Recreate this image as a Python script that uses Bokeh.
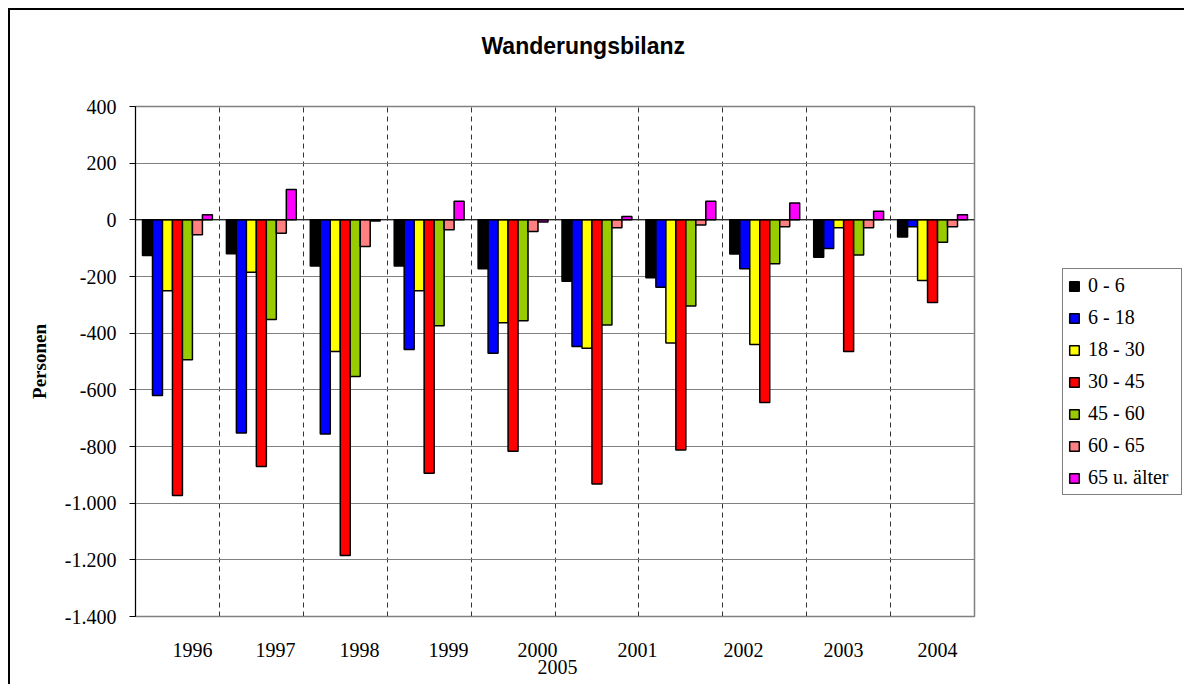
from bokeh.plotting import figure
from bokeh.models import ColumnDataSource, FixedTicker, Span, Legend, LegendItem, Range1d, LinearAxis
from bokeh.transform import dodge
from bokeh.embed import file_html
from bokeh.resources import INLINE

# ---- data ----
years = ["1996", "1997", "1998", "1999", "2000", "2001", "2002", "2003", "2004", "2005"]
age_groups = ["0 - 6", "6 - 18", "18 - 30", "30 - 45", "45 - 60", "60 - 65", "65 u. älter"]
v_0_6 = [-126, -120, -163, -163, -173, -217, -204, -121, -132, -61]
v_6_18 = [-620, -752, -756, -458, -471, -447, -238, -173, -101, -24]
v_18_30 = [-250, -185, -465, -250, -363, -453, -435, -440, -28, -214]
v_30_45 = [-973, -871, -1185, -894, -817, -932, -812, -645, -465, -292]
v_45_60 = [-494, -352, -553, -374, -356, -371, -304, -155, -124, -79]
v_60_65 = [-53, -47, -94, -35, -41, -28, -18, -24, -28, -24]
v_65_plus = [18, 107, -4, 66, -8, 12, 66, 59, 30, 18]
x_tick_labels = ["1996", "1997", "1998", "1999", "2000", "2001", "2002", "2003", "2004"]
stray_label = "2005"
y_ticks = [-1400, -1200, -1000, -800, -600, -400, -200, 0, 200, 400]
y_tick_labels = ["-1.400", "-1.200", "-1.000", "-800", "-600", "-400", "-200", "0", "200", "400"]

series = [v_0_6, v_6_18, v_18_30, v_30_45, v_45_60, v_60_65, v_65_plus]
colors = ["#000000", "#0000FF", "#FFFF00", "#FF0000", "#99CC00", "#FF8080", "#FF00FF"]

# ---- layout (positions / styles) ----
x_label_pos = [0.679, 1.669, 2.67, 3.731, 4.791, 5.983, 7.247, 8.439, 9.559]
stray_pos = [5.03]
bar_w = 0.119
SERIF = "Liberation Serif"

data = {"slot": [i + 0.5 for i in range(len(years))], "year": years}
for k, s in enumerate(series):
    data["s%d" % k] = s
src = ColumnDataSource(data)

p = figure(output_backend="svg", toolbar_location=None,
           x_range=Range1d(0, len(years)), y_range=Range1d(-1400, 400),
           frame_width=839, frame_height=510,
           min_border_left=125, min_border_right=208, min_border_top=96, min_border_bottom=70,
           background_fill_color="white", border_fill_color="white")
p.styles = {"margin-left": "10px", "margin-top": "10px", "box-shadow": "-2px -2px 0 0 black"}

p.outline_line_color = "#808080"
p.outline_line_width = 1.5

# title
p.title.text = "Wanderungsbilanz"
p.title.text_font = "Liberation Sans"
p.title.text_font_style = "bold"
p.title.text_font_size = "23px"
p.title.text_color = "black"
p.title.align = "left"
p.title.offset = 346
p.title.standoff = 16

# main x axis (below)
xa = p.below[0]

# empty band between the title and the plot area
spacer = LinearAxis(ticker=FixedTicker(ticks=[5]), major_label_overrides={5: ""},
                    major_tick_out=40, major_tick_in=0, major_label_standoff=0,
                    axis_line_color=None, major_tick_line_color=None,
                    minor_tick_out=0, minor_tick_in=0, major_label_text_font_size="1px")
p.add_layout(spacer, "above")

# grids
p.ygrid.ticker = FixedTicker(ticks=y_ticks)
p.ygrid.grid_line_color = "#808080"
p.ygrid.grid_line_width = 1.2
p.xgrid.ticker = FixedTicker(ticks=list(range(1, len(years))))
p.xgrid.grid_line_color = "#333333"
p.xgrid.grid_line_dash = "5 4"
p.xgrid.grid_line_width = 1

# y axis
ya = p.left[0]
ya.ticker = FixedTicker(ticks=y_ticks)
ya.major_label_overrides = {t: l for t, l in zip(y_ticks, y_tick_labels)}
ya.major_label_text_font = SERIF
ya.major_label_text_font_size = "20px"
ya.major_label_text_color = "black"
ya.major_label_standoff = 13
ya.major_tick_out = 6
ya.major_tick_in = 0
ya.minor_tick_out = 0
ya.minor_tick_in = 0
ya.axis_line_color = "black"
ya.major_tick_line_color = "black"
ya.axis_label = "Personen"
ya.axis_label_text_font = SERIF
ya.axis_label_text_font_style = "bold"
ya.axis_label_text_font_size = "19px"
ya.axis_label_text_color = "black"
ya.axis_label_standoff = 12

# x axis
xa.ticker = FixedTicker(ticks=x_label_pos)
xa.major_label_overrides = {t: l for t, l in zip(x_label_pos, x_tick_labels)}
xa.major_label_text_font = SERIF
xa.major_label_text_font_size = "20px"
xa.major_label_text_color = "black"
xa.major_label_standoff = 26
xa.major_tick_out = 0
xa.major_tick_in = 0
xa.minor_tick_out = 0
xa.minor_tick_in = 0
xa.axis_line_color = "#808080"

# the stray label under the axis
xa2 = LinearAxis(ticker=FixedTicker(ticks=stray_pos),
                 major_label_overrides={stray_pos[0]: stray_label},
                 major_label_text_font=SERIF, major_label_text_font_size="20px",
                 major_label_text_color="black", major_label_standoff=0,
                 axis_line_color=None, major_tick_out=0, major_tick_in=0,
                 minor_tick_out=0, minor_tick_in=0)
p.add_layout(xa2, "below")

# bars
items = []
for k, (name, col) in enumerate(zip(age_groups, colors)):
    r = p.vbar(x=dodge("slot", (k - 3) * bar_w, range=p.x_range), top="s%d" % k, bottom=0,
               width=bar_w, source=src, fill_color=col, line_color="black", line_width=1.5)
    items.append(LegendItem(label=name, renderers=[r]))

p.add_layout(Span(location=0, dimension="width", line_color="black", line_width=1))

legend = Legend(items=items, location=(88, 121), orientation="vertical",
                label_text_font=SERIF, label_text_font_size="20px",
                label_text_color="black",
                glyph_width=12, glyph_height=12, label_height=23, label_width=88,
                label_standoff=8, spacing=9, padding=5, margin=0,
                border_line_color="black", border_line_width=1,
                background_fill_color="white", background_fill_alpha=1)
p.add_layout(legend, "right")

open("out.html", "w").write(file_html(p, INLINE))
